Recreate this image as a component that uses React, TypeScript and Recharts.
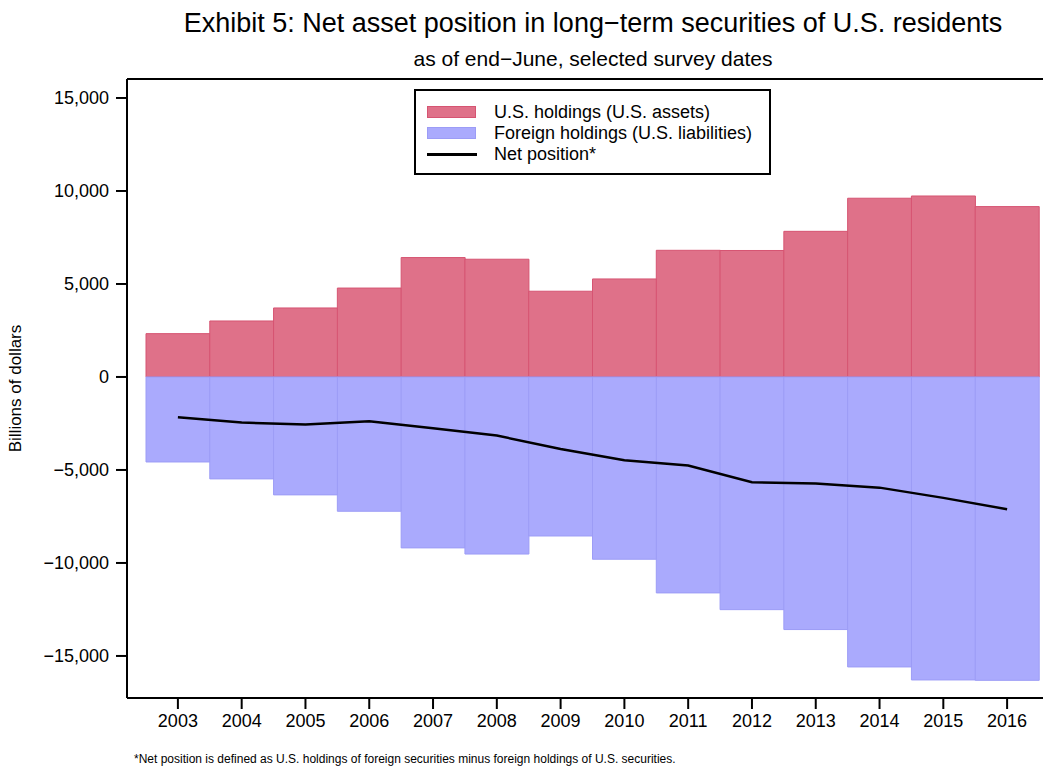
import React from 'react';
import { ComposedChart, Bar, Line, XAxis, YAxis, ReferenceLine } from 'recharts';

const years = ['2003', '2004', '2005', '2006', '2007', '2008', '2009', '2010', '2011', '2012', '2013', '2014', '2015', '2016'];
const usHoldings = [2330, 3010, 3710, 4780, 6420, 6330, 4610, 5270, 6810, 6800, 7830, 9610, 9730, 9160];
const foreignHoldings = [-4570, -5480, -6340, -7220, -9190, -9520, -8550, -9800, -11610, -12510, -13580, -15590, -16290, -16310];
const netPosition = [-2170, -2450, -2560, -2380, -2760, -3150, -3870, -4480, -4760, -5660, -5730, -5950, -6500, -7110];
const yTicks = [-15000, -10000, -5000, 0, 5000, 10000, 15000];
const Y_MIN = -17260;
const Y_MAX = 16020;

const data = years.map((year, i) => ({
  year,
  us: usHoldings[i],
  foreign: foreignHoldings[i],
  net: netPosition[i],
}));

const FONT = '"Liberation Sans", Arial, Helvetica, sans-serif';
const RED = '#DF7189';
const BLUE = '#AAAAFD';

const fmt = (v: number) => (v < 0 ? '\u2212' : '') + Math.abs(v).toLocaleString('en-US');

export default function App() {
  return (
    <div style={{ position: 'absolute', left: 0, top: 0, width: 1043, height: 767, fontFamily: FONT, background: '#fff' }}>
      <div style={{ position: 'absolute', left: 0, width: 1186, top: 8, textAlign: 'center', fontSize: 27, lineHeight: '30px', color: '#000' }}>
        Exhibit 5: Net asset position in long−term securities of U.S. residents
      </div>
      <div style={{ position: 'absolute', left: 0, width: 1186, top: 47, textAlign: 'center', fontSize: 21, lineHeight: '24px', color: '#000' }}>
        as of end−June, selected survey dates
      </div>
      <ComposedChart
        width={1043}
        height={767}
        data={data}
        stackOffset="sign"
        barCategoryGap={0}
        barGap={0}
        margin={{ top: 79, right: 0, bottom: 0, left: 0 }}
      >
        <XAxis
          dataKey="year"
          height={69}
          padding={{ left: 19, right: 4 }}
          axisLine={{ stroke: '#000', strokeWidth: 2 }}
          tickLine={{ stroke: '#000', strokeWidth: 2 }}
          tickSize={11}
          tickMargin={5}
          tick={{ fill: '#000', fontSize: 18, fontFamily: FONT }}
        />
        <YAxis
          type="number"
          width={127}
          domain={[Y_MIN, Y_MAX]}
          ticks={yTicks}
          tickFormatter={fmt}
          axisLine={{ stroke: '#000', strokeWidth: 2 }}
          tickLine={{ stroke: '#000', strokeWidth: 2 }}
          tickSize={11}
          tickMargin={7}
          tick={{ fill: '#000', fontSize: 18, fontFamily: FONT }}
          label={{ value: 'Billions of dollars', angle: -90, position: 'insideLeft', offset: 15, style: { fill: '#000', fontSize: 17, fontFamily: FONT, textAnchor: 'middle' } }}
        />
        <ReferenceLine y={Y_MAX} stroke="#000" strokeWidth={2} />
        <Bar dataKey="us" stackId="a" fill={RED} stroke="#D65472" strokeWidth={1} isAnimationActive={false} />
        <Bar dataKey="foreign" stackId="a" fill={BLUE} stroke="#9C9CF6" strokeWidth={1} isAnimationActive={false} />
        <Line dataKey="net" type="linear" stroke="#000" strokeWidth={2.5} dot={false} isAnimationActive={false} />
      </ComposedChart>
      <div
        style={{
          position: 'absolute',
          left: 414,
          top: 89,
          width: 357,
          height: 86,
          boxSizing: 'border-box',
          border: '2px solid #000',
          background: '#fff',
          fontSize: 18,
          color: '#000',
        }}
      >
        {[
          { label: 'U.S. holdings (U.S. assets)', kind: 'red' },
          { label: 'Foreign holdings (U.S. liabilities)', kind: 'blue' },
          { label: 'Net position*', kind: 'line' },
        ].map((item, i) => (
          <div key={item.label} style={{ position: 'absolute', left: 0, top: 11 + i * 21, height: 21, width: '100%' }}>
            {item.kind === 'line' ? (
              <div style={{ position: 'absolute', left: 11, top: 9, width: 50, height: 3, background: '#000' }} />
            ) : (
              <div
                style={{
                  position: 'absolute',
                  left: 11,
                  top: 4,
                  width: 49,
                  height: 12,
                  boxSizing: 'border-box',
                  background: item.kind === 'red' ? RED : BLUE,
                  border: `1px solid ${item.kind === 'red' ? '#D65472' : '#9C9CF6'}`,
                }}
              />
            )}
            <span style={{ position: 'absolute', left: 78, top: 0, lineHeight: '21px', whiteSpace: 'nowrap' }}>{item.label}</span>
          </div>
        ))}
      </div>
      <div style={{ position: 'absolute', left: 134, top: 752, fontSize: 12, color: '#000', whiteSpace: 'nowrap' }}>
        *Net position is defined as U.S. holdings of foreign securities minus foreign holdings of U.S. securities.
      </div>
    </div>
  );
}
